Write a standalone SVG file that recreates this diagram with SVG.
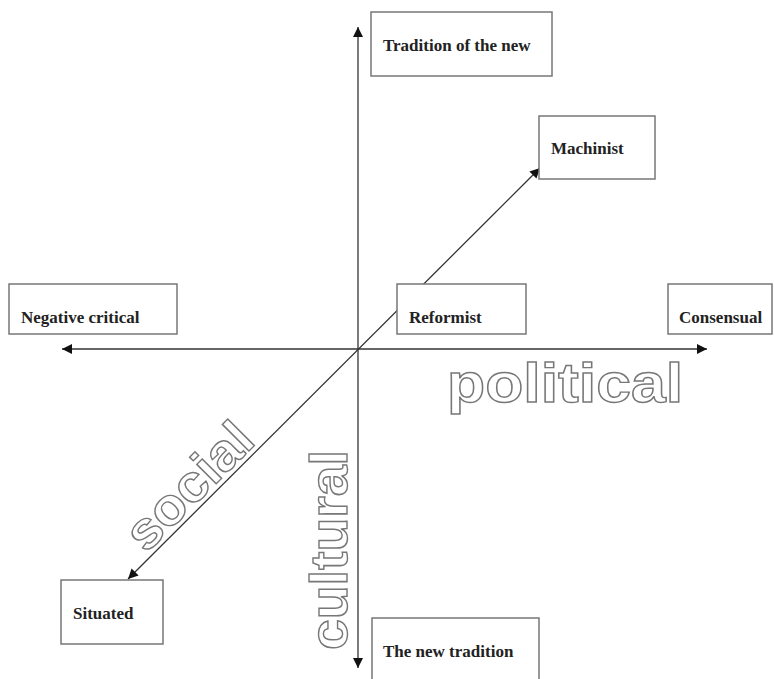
<svg xmlns="http://www.w3.org/2000/svg" width="774" height="679" viewBox="0 0 774 679">
<style>
.box{fill:#fff;stroke:#777;stroke-width:1.5}
.lbl{font-family:"Liberation Serif","Times New Roman",serif;font-weight:bold;font-size:17px;fill:#222}
.axis{stroke:#333;stroke-width:1.3;fill:none}
.big{font-family:"Liberation Sans",Arial,sans-serif;font-weight:bold;fill:#fff;stroke:#777;stroke-width:1.4}
</style>
<defs>
<marker id="ah" viewBox="0 0 10 10" refX="10" refY="5" markerWidth="10" markerHeight="10" markerUnits="userSpaceOnUse" orient="auto-start-reverse">
<path d="M0,0 L10,5 L0,10 Z" fill="#111"/>
</marker>
</defs>
<rect width="774" height="679" fill="#fff"/>
<g id="connectors">
<line class="axis" x1="62" y1="349" x2="707" y2="349" marker-start="url(#ah)" marker-end="url(#ah)"/>
<line class="axis" x1="358" y1="27" x2="358" y2="668" marker-start="url(#ah)" marker-end="url(#ah)"/>
<line class="axis" x1="128" y1="579" x2="540" y2="168" marker-start="url(#ah)" marker-end="url(#ah)"/>
</g>
<g id="tradition-of-the-new"><rect class="box" x="371" y="12" width="181" height="64"/><text class="lbl" x="383" y="51">Tradition of the new</text></g>
<g id="machinist"><rect class="box" x="539" y="116" width="116" height="63"/><text class="lbl" x="551" y="154">Machinist</text></g>
<g id="negative-critical"><rect class="box" x="9" y="284" width="168" height="50"/><text class="lbl" x="21" y="323">Negative critical</text></g>
<g id="reformist"><rect class="box" x="397" y="284" width="129" height="50"/><text class="lbl" x="409" y="323">Reformist</text></g>
<g id="consensual"><rect class="box" x="668" y="284" width="104" height="50"/><text class="lbl" x="679" y="323">Consensual</text></g>
<g id="situated"><rect class="box" x="61" y="580" width="102" height="64"/><text class="lbl" x="73" y="619">Situated</text></g>
<g id="the-new-tradition"><rect class="box" x="372" y="618" width="167" height="80"/><text class="lbl" x="383" y="657">The new tradition</text></g>
<g id="axis-labels">
<text class="big" x="447" y="402" font-size="56" textLength="236" lengthAdjust="spacingAndGlyphs">political</text>
<text class="big" font-size="51" textLength="200" lengthAdjust="spacingAndGlyphs" transform="translate(347,650) rotate(-90)">cultural</text>
<text class="big" font-size="52" textLength="157" lengthAdjust="spacingAndGlyphs" transform="translate(146,554) rotate(-45)">social</text>
</g>
</svg>
